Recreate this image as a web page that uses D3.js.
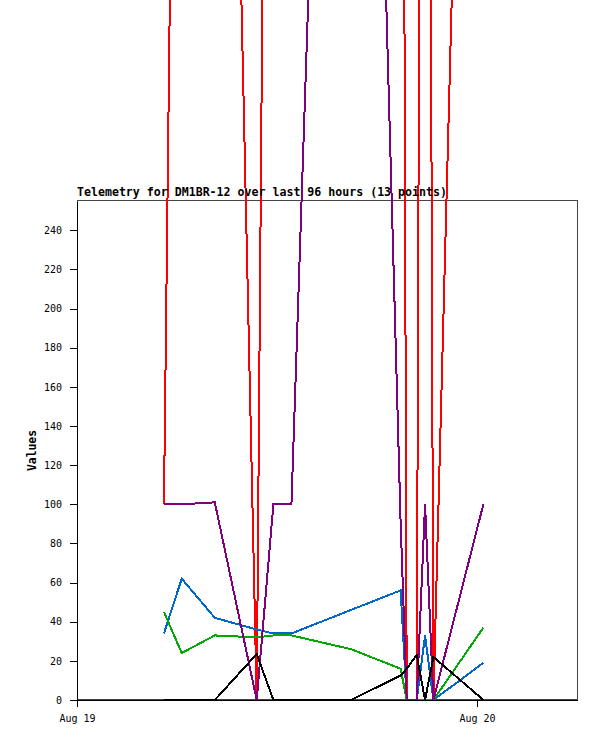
<!DOCTYPE html>
<html>
<head>
<meta charset="utf-8">
<script src="https://cdn.jsdelivr.net/npm/d3@7"></script>
<style>
  body { margin: 0; background: #fff; }
  svg { display: block; }
  text { font-family: "DejaVu Sans Mono", "Liberation Mono", monospace; }
</style>
</head>
<body>
<svg id="chart"></svg>
<script>
// telemetry samples (13 points)
var sampleTimes = ["2024-08-19T05:13", "2024-08-19T06:17", "2024-08-19T08:16", "2024-08-19T10:47",
    "2024-08-19T11:47", "2024-08-19T12:52", "2024-08-19T16:26", "2024-08-19T19:25", "2024-08-19T19:47",
    "2024-08-19T20:23", "2024-08-19T20:53", "2024-08-19T21:23", "2024-08-20T00:23"];

var chRed    = [100, 880, 980, 0, 1060, 1000, 1000, 940, 0, 0, 1220, 0, 975];
var chPurple = [100, 100, 101, 0, 100, 100, 1010, 91, 0, 0, 100, 0, 100];
var chBlue   = [34, 62, 42, 36, 34, 34, 46, 56, 0, 0, 33, 0, 19];
var chGreen  = [45, 24, 33, 32, 33, 33, 26, 16, 0, 0, 0, 0, 37];
var chBlack  = [0, 0, 0, 23.5, 0, 0, 0, 12.5, 16, 23, 0, 22, 0];

var yTicks = [0, 20, 40, 60, 80, 100, 120, 140, 160, 180, 200, 220, 240];
var xTicks = ["2024-08-19T00:00", "2024-08-20T00:00"];
var xRange = ["2024-08-19T00:00", "2024-08-20T06:00"];

var titleText = "Telemetry for DM1BR-12 over last 96 hours (13 points)";

var W = 597, H = 741;
var plotL = 77, plotR = 577, plotT = 201, plotB = 700;

var parse = d3.timeParse("%Y-%m-%dT%H:%M");
var times = sampleTimes.map(parse);

var svg = d3.select("#chart").attr("width", W).attr("height", H);

var x = d3.scaleTime().domain(xRange.map(parse)).range([plotL, plotR]);
var y = d3.scaleLinear().domain([0, 255]).range([plotB, plotT]);

// frame
svg.append("rect")
    .attr("x", plotL + 0.5).attr("y", plotT - 0.5)
    .attr("width", plotR - plotL).attr("height", plotB - plotT)
    .attr("fill", "none").attr("stroke", "#444").attr("stroke-width", 1)
    .attr("shape-rendering", "crispEdges");

var series = [
    {values: chRed, color: "#ff0000"},
    {values: chBlue, color: "#0066cc"},
    {values: chGreen, color: "#00aa00"},
    {values: chPurple, color: "#800080"},
    {values: chBlack, color: "#000000"}
];

var line = d3.line()
    .x(function(d, i) { return x(times[i]); })
    .y(function(d) { return y(d); });

svg.append("g").selectAll("path")
    .data(series)
    .enter().append("path")
    .attr("d", function(s) { return line(s.values); })
    .attr("fill", "none")
    .attr("stroke", function(s) { return s.color; })
    .attr("stroke-width", 2)
    .attr("stroke-linejoin", "miter")
    .attr("shape-rendering", "crispEdges");

// axes
var yAxis = svg.append("g")
    .attr("transform", "translate(" + plotL + ",0)")
    .call(d3.axisLeft(y).tickValues(yTicks).tickSize(7).tickSizeOuter(0).tickPadding(8));

var xAxis = svg.append("g")
    .attr("transform", "translate(0," + plotB + ")")
    .call(d3.axisBottom(x).tickValues(xTicks.map(parse)).tickFormat(d3.timeFormat("%b %d"))
        .tickSize(7).tickSizeOuter(0).tickPadding(8));

[yAxis, xAxis].forEach(function(a) {
    a.attr("shape-rendering", "crispEdges");
    a.selectAll("path, line").attr("stroke", "#000");
    a.selectAll("text")
        .attr("fill", "#000")
        .style("font-size", "10px")
        .style("font-family", "'DejaVu Sans Mono', monospace");
});

svg.append("text")
    .attr("x", plotL)
    .attr("y", 196)
    .style("font-size", "11.6px")
    .style("font-weight", "bold")
    .text(titleText);

svg.append("text")
    .attr("transform", "translate(36," + ((plotT + plotB) / 2) + ") rotate(-90)")
    .attr("text-anchor", "middle")
    .style("font-size", "11.4px")
    .style("font-weight", "bold")
    .text("Values");
</script>
</body>
</html>
